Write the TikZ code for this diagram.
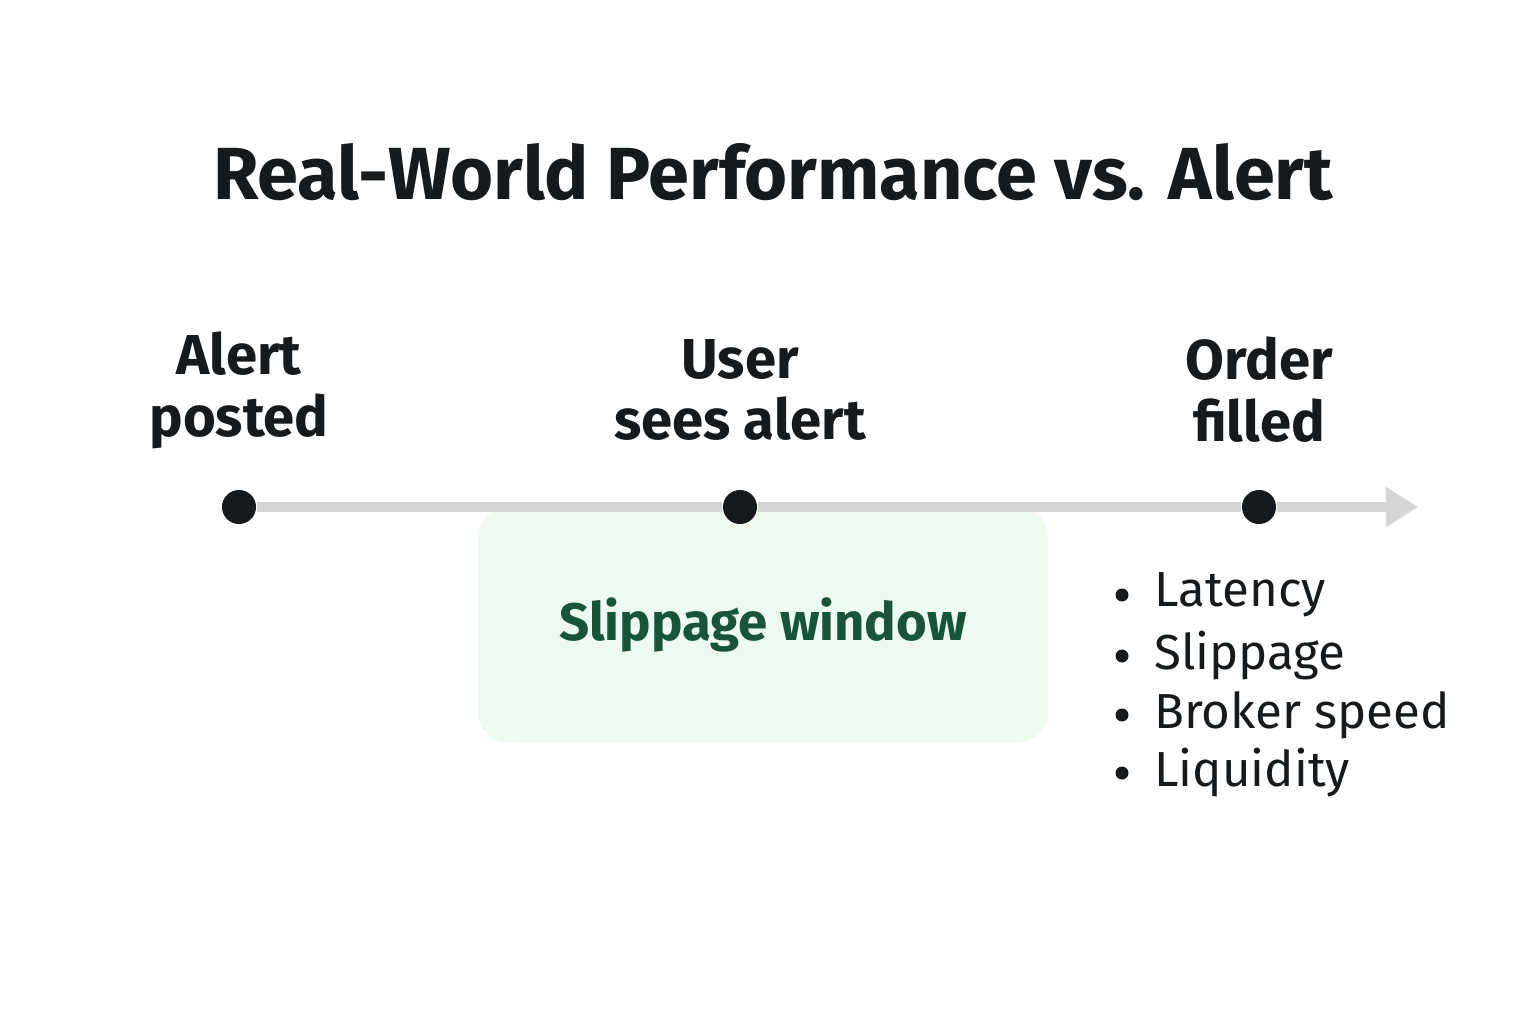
\documentclass[tikz,border=0pt]{standalone}
\usepackage{fontspec}
\setmainfont{Fira Sans}
\usepackage{tikz}
\usetikzlibrary{positioning, arrows.meta}
\definecolor{linegray}{RGB}{212, 214, 212}
\definecolor{dotblack}{RGB}{22, 26, 28}
\definecolor{windowfill}{RGB}{236, 250, 240}
\definecolor{windowtext}{RGB}{24, 84, 56}

\begin{document}
\begin{tikzpicture}[x=0.01cm, y=-0.01cm]
        \useasboundingbox (0,0) rectangle (1536,1024);
        \fill[white] (0,0) rectangle (1536,1024);
        % Title
        \node[font=\fontsize{21}{26}\selectfont\bfseries, text=dotblack] (title) at (773,172) {Real-World Performance vs. Alert};

        % Slippage window
        \fill[windowfill, rounded corners=0.3cm] (478,507) rectangle (1048,742);
        \node[font=\fontsize{15}{18}\selectfont\bfseries, text=windowtext] (slip) at (763,625) {Slippage window};

        % Timeline
        \coordinate (tend) at (1418,507);
        \foreach \x/\name/\text in {239/posted/{Alert\\posted}, 740/sees/{User\\sees alert}, 1259/filled/{Order\\filled}} {
        \node[circle, fill=dotblack, minimum size=0.34cm, inner sep=0pt] (\name) at (\x,507) {};
        \node[align=center, font=\fontsize{16}{17.6}\selectfont\bfseries, text=dotblack] (\name-label) at (\x,390) {\text};
        }
        \draw[linegray, line width=2.8pt] (posted.east) -- (sees.west) (sees.east) -- (filled.west);
        \draw[linegray, line width=2.8pt, -{Triangle[length=0.32cm, width=0.38cm]}] (filled.east) -- (tend);

        % Factors
        \foreach \y/\name/\text in {595/lat/Latency, 656/slp/Slippage, 715/brk/Broker speed, 773/liq/Liquidity} {
        \fill[dotblack] (1122,\y) circle (0.065cm);
        \node[anchor=west, font=\fontsize{14}{17}\selectfont, text=dotblack] (\name) at (1142,\y) {\text};
        }
    \end{tikzpicture}
\end{document}
